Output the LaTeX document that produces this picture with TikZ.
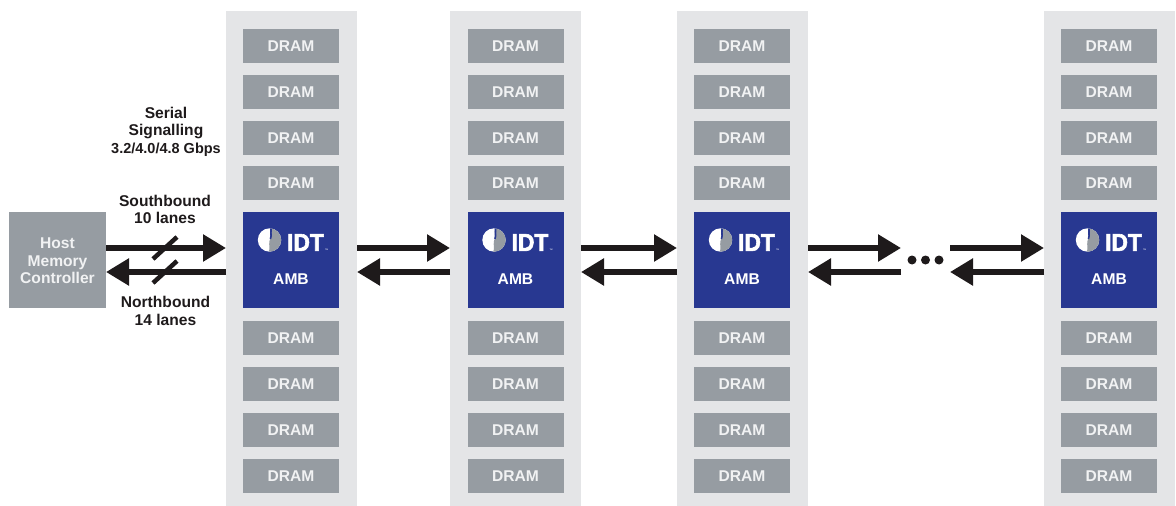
\documentclass[tikz,border=0pt]{standalone}
\usepackage{fontspec}
\setmainfont{Liberation Sans}
\newfontfamily\idtfont[BoldFeatures={FakeBold=2.5}]{Liberation Sans}
\usetikzlibrary{arrows.meta}
\definecolor{panelc}{HTML}{E4E5E7}
\definecolor{dramc}{HTML}{969CA2}
\definecolor{ambc}{HTML}{283891}
\definecolor{inkc}{HTML}{1E1A1B}
\definecolor{paperc}{HTML}{F1F2F3}
\tikzset{
  x=1pt,y=-1pt,
  base/.style={inner sep=0pt,outer sep=0pt,font=\bfseries\fontsize{15.6}{17.5}\selectfont,align=center},
  panelbox/.style={base,fill=panelc,minimum width=131pt,minimum height=495pt},
  drambox/.style={base,fill=dramc,text=paperc,minimum width=96pt,minimum height=34pt,text height=11.4pt,text depth=0pt},
  ambbox/.style={base,fill=ambc,minimum width=96pt,minimum height=96pt},
  hostbox/.style={base,fill=dramc,text=paperc,minimum width=97pt,minimum height=96pt},
  label/.style={base,text=inkc},
  link/.style={draw=inkc,line width=5.5pt,-{Triangle[length=23pt,width=26pt,fill=inkc]}},
  slash/.style={draw=inkc,line width=4.5pt},
  dotc/.style={circle,fill=inkc,minimum size=9pt,inner sep=0pt,outer sep=0pt}
}
\begin{document}
\begin{tikzpicture}
\useasboundingbox (0,0) rectangle (1176,506);
\coordinate (sy) at (0,248);
\coordinate (ny) at (0,272);
\foreach \n/\px/\cx in {1/291.5/291,2/515.5/515.5,3/742.5/742,4/1109.5/1109}{
  \node[panelbox] (c\n) at (\px,258.5) {};
  \foreach \r/\cy in {1/46,2/92,3/137.5,4/183,5/338,6/384,7/430,8/476}{
    \node[drambox] (d\n\r) at (\cx,\cy) {DRAM};
  }
  \node[ambbox] (a\n) at (\cx,260) {};
  \begin{scope}[shift={(\cx-21.5,240)}]
    \fill[white] (0,0) circle (11.7);
    \begin{scope}
      \clip (0,0) circle (11.7);
      \fill[dramc] (1,-12) .. controls (0,-7) and (2,-3) .. (0,1) .. controls (-1,5) and (1,9) .. (-1,12) -- (12,12) -- (12,-12) -- cycle;
      \draw[ambc,line width=1.6pt] (1.5,-12) .. controls (0.5,-8) and (2.5,-6) .. (1,-1);
    \end{scope}
  \end{scope}
  \node[base,text=white,font=\idtfont\bfseries\fontsize{24.5}{25}\selectfont,xscale=0.93] (i\n) at (\cx+14.5,242.5) {IDT};
  \node[base,text=white,font=\fontsize{3.5}{4}\selectfont] (t\n) at (\cx+35.5,250) {™};
  \node[base,text=white] (m\n) at (\cx,279.5) {AMB};
}
\node[hostbox] (host) at (57.5,260) {\rule{0pt}{12.2pt}Host\\Memory\\Controller};
\node[label,font=\bfseries\fontsize{14.5}{17.5}\selectfont] (sig) at (166,131.5) {\fontsize{15.6}{17.5}\selectfont Serial\\\fontsize{15.6}{17.5}\selectfont Signalling\\3.2/4.0/4.8 Gbps};
\node[label] (sb) at (165,209.5) {Southbound\\10 lanes};
\node[label] (nb) at (165.5,311) {Northbound\\14 lanes};
% links
\draw[link] (host.east |- sy) -- (c1.west |- sy);
\draw[link] (c1.west |- ny) -- (host.east |- ny);
\draw[link] (c1.east |- sy) -- (c2.west |- sy);
\draw[link] (c2.west |- ny) -- (c1.east |- ny);
\draw[link] (c2.east |- sy) -- (c3.west |- sy);
\draw[link] (c3.west |- ny) -- (c2.east |- ny);
\coordinate (gl) at (901,260);
\coordinate (gr) at (950,260);
\draw[link] (c3.east |- sy) -- (gl |- sy);
\draw[link] (gl |- ny) -- (c3.east |- ny);
\draw[link] (gr |- sy) -- (c4.west |- sy);
\draw[link] (c4.west |- ny) -- (gr |- ny);
\node[dotc] (e1) at (912,260) {};
\node[dotc] (e2) at (925.5,260) {};
\node[dotc] (e3) at (939,260) {};
% lane slashes
\coordinate (s1) at (153,259); \coordinate (s2) at (177,237);
\coordinate (n1) at (153,283); \coordinate (n2) at (177,261);
\draw[slash] (s1) -- (s2);
\draw[slash] (n1) -- (n2);
\end{tikzpicture}
\end{document}
